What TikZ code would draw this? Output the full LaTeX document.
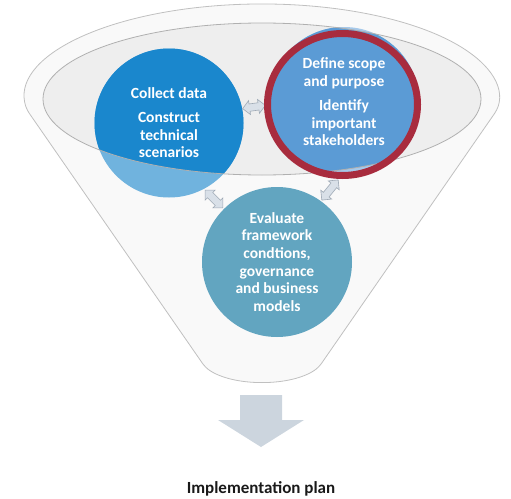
\documentclass[tikz,border=0pt]{standalone}
\usepackage{fontspec}
\setmainfont{Carlito}
\usepackage{xcolor}
\usepackage{tikz}
\usetikzlibrary{shapes.arrows}

\definecolor{funnelfill}{HTML}{F9F9F9}
\definecolor{funnelline}{HTML}{C0C0C0}
\definecolor{rimfill}{HTML}{EEEEEE}
\definecolor{rimline}{HTML}{B0B0B0}
\definecolor{collectdark}{HTML}{1A87CD}
\definecolor{collectlight}{HTML}{70B3DE}
\definecolor{definedark}{HTML}{5B9BD5}
\definecolor{definelight}{HTML}{A6C9EA}
\definecolor{evalblue}{HTML}{62A5C0}
\definecolor{ringred}{HTML}{A82C3E}
\definecolor{swapgray}{HTML}{D9E0E8}
\definecolor{swapline}{HTML}{9EA9B5}
\definecolor{outgray}{HTML}{CCD5DE}

\tikzset{
  stage/.style={circle, minimum size=#1, inner sep=0pt, align=center, text=white, font=\fontsize{15.5}{17.7}\selectfont\bfseries},
  swap/.style={double arrow, draw=swapline, fill=swapgray, line width=0.6pt, inner sep=3pt, minimum width=14pt, minimum height=#1, double arrow head extend=3pt}
}

\begin{document}
\begin{tikzpicture}[x=1pt, y=-1pt]
\useasboundingbox (0,0) rectangle (511,498);
\coordinate (O) at (262,98);
\coordinate (E) at (262,99);
\coordinate (R) at (342.5,104.5);

\filldraw[fill=funnelfill, draw=funnelline, line width=0.8pt, rounded corners=4pt] (26.9,109.9) arc[start angle=172.7, end angle=367.3, x radius=237, y radius=94] -- (319,367) .. controls (292,387) and (232,387) .. (205,367) -- cycle;
\fill[rimfill] (E) ellipse[x radius=219, y radius=76];

\node[stage=149pt, fill=collectlight, path picture={\fill[collectdark] (E) ellipse[x radius=219, y radius=76];}] (collect) at (169,123) {Collect data\\[6pt]Construct\\technical\\scenarios};
\node[stage=150pt, fill=definelight, path picture={\fill[definedark] (E) ellipse[x radius=219, y radius=76];}] (define) at (344,102) {Define scope\\and purpose\\[6pt]Identify\\important\\stakeholders};

\draw[rimline, line width=0.8pt] (E) ellipse[x radius=219, y radius=76];

\node[stage=150pt, fill=evalblue] (evaluate) at (277,262) {Evaluate\\framework\\condtions,\\governance\\and business\\models};

\node[swap=23pt, rotate=8] (cd) at (254,107) {};
\node[swap=25pt, rotate=-45] (ce) at (214,199) {};
\node[swap=26pt, rotate=51] (de) at (330,190) {};

\draw[ringred, line width=7pt] (R) ellipse[x radius=75, y radius=71];

\fill[outgray] (240,395) -- (282,395) -- (282,420) -- (304,420) -- (261,447) -- (218,420) -- (240,420) -- cycle;
\node[anchor=base, font=\fontsize{17}{20}\selectfont\bfseries, text=black!90] (plan) at (261,493) {Implementation plan};
\end{tikzpicture}
\end{document}
